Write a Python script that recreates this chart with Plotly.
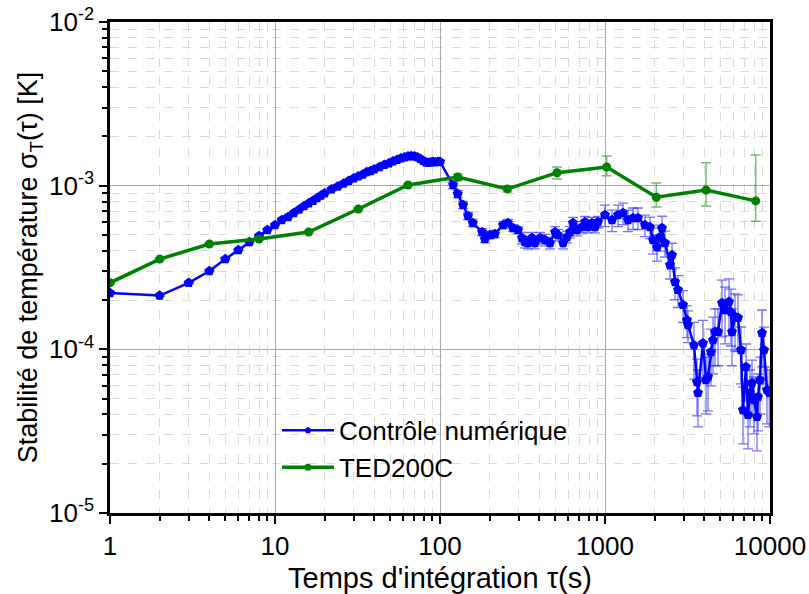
import plotly.graph_objects as go

# ---------------- data ----------------
# Blue: "Contrôle numérique"
blue_tau = [
    1, 2, 3, 4, 5, 6, 7, 8, 9, 10,
    11, 12, 13, 14, 15, 16, 17, 18, 19, 20,
    22, 24, 26, 28, 30, 32, 34, 36, 38, 40,
    43, 46, 49, 52, 55, 58, 61, 64, 67, 70,
    73, 76, 79, 82, 85, 88, 91, 94, 97, 100,
    120, 128, 138, 148, 158, 180, 187, 201, 215, 241,
    258, 277, 297, 314, 327, 341, 361, 376, 404, 433,
    464, 498, 519, 557, 588, 614, 640, 677, 726, 757,
    789, 834, 870, 907,
    1000, 1103, 1199, 1286, 1379, 1478, 1585, 1747, 1874, 1954,
    2066, 2154, 2216, 2310, 2477, 2548, 2657, 2770, 2970, 3141,
    3184, 3463, 3611, 3661, 3926, 4095, 4210, 4390, 4514, 4642,
    4840, 5119, 5339, 5643, 5801, 5885, 6136, 6397, 6672, 6862,
    7153, 7355, 7564, 7780, 7998, 8342, 8459, 8699, 8944, 9197,
    9590, 9900,
]
blue_sigma = [
    2.21e-4, 2.13e-4, 2.55e-4, 3.01e-4, 3.56e-4, 4.04e-4, 4.53e-4, 4.93e-4, 5.36e-4, 5.75e-4,
    6.17e-4, 6.44e-4, 6.81e-4, 7.15e-4, 7.50e-4, 7.80e-4, 8.10e-4, 8.40e-4, 8.70e-4, 9.00e-4,
    9.50e-4, 9.90e-4, 1.03e-3, 1.07e-3, 1.11e-3, 1.14e-3, 1.17e-3, 1.21e-3, 1.23e-3, 1.26e-3,
    1.30e-3, 1.34e-3, 1.37e-3, 1.41e-3, 1.44e-3, 1.47e-3, 1.49e-3, 1.51e-3, 1.52e-3, 1.51e-3,
    1.49e-3, 1.46e-3, 1.42e-3, 1.39e-3, 1.38e-3, 1.39e-3, 1.40e-3, 1.39e-3, 1.40e-3, 1.40e-3,
    1.01e-3, 8.90e-4, 7.62e-4, 6.53e-4, 5.92e-4, 5.21e-4, 4.72e-4, 5.00e-4, 5.07e-4, 5.75e-4,
    5.92e-4, 5.51e-4, 5.36e-4, 4.79e-4, 4.53e-4, 4.47e-4, 4.79e-4, 4.47e-4, 4.79e-4, 4.66e-4,
    4.47e-4, 5.21e-4, 5.00e-4, 4.47e-4, 4.86e-4, 5.21e-4, 5.92e-4, 5.36e-4, 5.59e-4, 6.00e-4,
    5.59e-4, 5.92e-4, 5.59e-4, 6.00e-4,
    6.62e-4, 6.17e-4, 6.62e-4, 6.81e-4, 6.17e-4, 6.35e-4, 6.35e-4, 5.75e-4, 5.59e-4, 4.66e-4,
    4.22e-4, 4.86e-4, 5.51e-4, 4.47e-4, 3.28e-4, 3.77e-4, 2.58e-4, 2.31e-4, 1.87e-4, 1.51e-4,
    1.41e-4, 1.06e-4, 6.32e-5, 5.42e-5, 1.09e-4, 6.50e-5, 6.78e-5, 9.64e-5, 1.14e-4, 1.28e-4,
    1.28e-4, 1.92e-4, 1.74e-4, 1.95e-4, 1.69e-4, 1.28e-4, 1.58e-4, 1.56e-4, 9.92e-5, 4.26e-5,
    7.81e-5, 3.98e-5, 5.42e-5, 6.23e-5, 4.91e-5, 3.87e-5, 5.12e-5, 6.50e-5, 1.26e-4, 9.90e-5,
    5.65e-5, 5.42e-5,
]
blue_err_pct = [
    1, 1, 1, 1, 1, 1, 1, 1, 1, 1,
    1, 1, 1, 1, 1, 1, 1, 1, 1, 1,
    2, 2, 2, 2, 2, 2, 2, 2, 2, 2,
    2, 2, 2, 2, 2, 2, 2, 2, 2, 2,
    2, 2, 2, 2, 2, 2, 2, 2, 2, 2,
    5, 5, 5, 5, 5, 5, 5, 5, 5, 5,
    5, 5, 5, 8, 8, 8, 8, 8, 8, 8,
    8, 8, 8, 8, 8, 8, 8, 8, 8, 8,
    8, 8, 8, 8,
    15, 15, 15, 15, 15, 15, 15, 15, 15, 18,
    18, 18, 18, 18, 18, 18, 22, 22, 22, 22,
    22, 38, 38, 38, 38, 38, 38, 38, 38, 38,
    38, 38, 38, 38, 38, 38, 38, 38, 38, 38,
    38, 38, 38, 38, 38, 38, 38, 38, 38, 38,
    38, 38,
]

# Green: "TED200C"
green_tau = [1, 2, 4, 8, 16, 32, 64, 128, 256, 512, 1024, 2048, 4096, 8192]
green_sigma = [2.55e-4, 3.56e-4, 4.40e-4, 4.72e-4, 5.21e-4, 7.20e-4, 1.01e-3,
               1.13e-3, 9.55e-4, 1.20e-3, 1.30e-3, 8.50e-4, 9.40e-4, 8.07e-4]
green_err_up = [3e-6, 4e-6, 5e-6, 5e-6, 6e-6, 8e-6, 1.5e-5,
                5e-5, 4e-5, 1.0e-4, 2.2e-4, 1.9e-4, 4.4e-4, 7.3e-4]
green_err_down = [3e-6, 4e-6, 5e-6, 5e-6, 6e-6, 8e-6, 1.5e-5,
                  6e-5, 4e-5, 1.0e-4, 1.5e-4, 1.1e-4, 1.9e-4, 2.0e-4]

x_tickvals = [1, 10, 100, 1000, 10000]
x_ticktext = ["1", "10", "100", "1000", "10000"]
y_tickvals = [1e-5, 1e-4, 1e-3, 1e-2]
y_ticktext = ["10<sup>-5</sup>", "10<sup>-4</sup>", "10<sup>-3</sup>", "10<sup>-2</sup>"]

assert len(blue_tau) == len(blue_sigma) == len(blue_err_pct)

blue_err = [s * p / 100 for s, p in zip(blue_sigma, blue_err_pct)]

FONT = "Arial, Liberation Sans, sans-serif"
BLUE = "#0000ff"
GREEN = "#008000"

fig = go.Figure()

fig.add_trace(go.Scatter(
    x=blue_tau, y=blue_sigma, mode="lines+markers",
    line=dict(color=BLUE, width=2.5),
    marker=dict(color=BLUE, size=10.5, symbol="pentagon"),
    error_y=dict(type="data", array=blue_err, visible=True,
                 color="rgba(40,40,255,0.65)", thickness=1.3, width=5),
    showlegend=False,
))
fig.add_trace(go.Scatter(
    x=green_tau, y=green_sigma, mode="lines+markers",
    line=dict(color=GREEN, width=3.5),
    marker=dict(color=GREEN, size=9, symbol="circle"),
    error_y=dict(type="data", symmetric=False, array=green_err_up,
                 arrayminus=green_err_down, visible=True,
                 color="rgba(30,140,30,0.6)", thickness=1.5, width=5),
    showlegend=False,
))
# legend entries
fig.add_trace(go.Scatter(
    x=[None], y=[None], mode="lines+markers", name="Contrôle numérique",
    line=dict(color=BLUE, width=2.5), marker=dict(color=BLUE, size=7, symbol="pentagon"),
))
fig.add_trace(go.Scatter(
    x=[None], y=[None], mode="lines+markers", name="TED200C",
    line=dict(color=GREEN, width=3.5), marker=dict(color=GREEN, size=7, symbol="circle"),
))

axis_common = dict(
    showline=True, linecolor="black", linewidth=2.5, mirror=True,
    ticks="outside", ticklen=8, tickwidth=2, tickcolor="black",
    showgrid=True, gridcolor="#a8a8a8", gridwidth=1,
    zeroline=False, automargin=False, ticklabeloverflow="allow",
    tickfont=dict(family=FONT, size=26, color="black"),
)

fig.update_xaxes(
    type="log", range=[0, 4],
    tickvals=x_tickvals, ticktext=x_ticktext,
    minor=dict(dtick="D1", ticks="outside", ticklen=5, tickwidth=1.5, tickcolor="black",
               showgrid=True, gridcolor="#dadada", griddash="dash", gridwidth=1),
    title=dict(text="Temps d'intégration τ(s)", font=dict(family=FONT, size=29, color="black"),
               standoff=8),
    **axis_common,
)
fig.update_yaxes(
    type="log", range=[-5, -2],
    tickvals=y_tickvals, ticktext=y_ticktext,
    minor=dict(dtick="D1", ticks="outside", ticklen=5, tickwidth=1.5, tickcolor="black",
               showgrid=True, gridcolor="#dadada", griddash="dash", gridwidth=1),
    title=dict(text="Stabilité de température σ<sub>T</sub>(τ) [K]",
               font=dict(family=FONT, size=27, color="black"), standoff=4),
    **axis_common,
)

fig.update_layout(
    width=809, height=594,
    margin=dict(l=110, r=39, t=22, b=81),
    paper_bgcolor="white", plot_bgcolor="white",
    font=dict(family=FONT, color="black"),
    legend=dict(x=0.253, y=0.216, xanchor="left", yanchor="top", itemwidth=52,
                bgcolor="rgba(0,0,0,0)", font=dict(family=FONT, size=26, color="black"),
                tracegroupgap=0),
)

# remove the default page margin so the figure fills the window exactly
fig.write_html("out.html",
               config={"displayModeBar": False},
               post_script="document.body.style.margin='0';document.body.style.overflow='hidden';")
